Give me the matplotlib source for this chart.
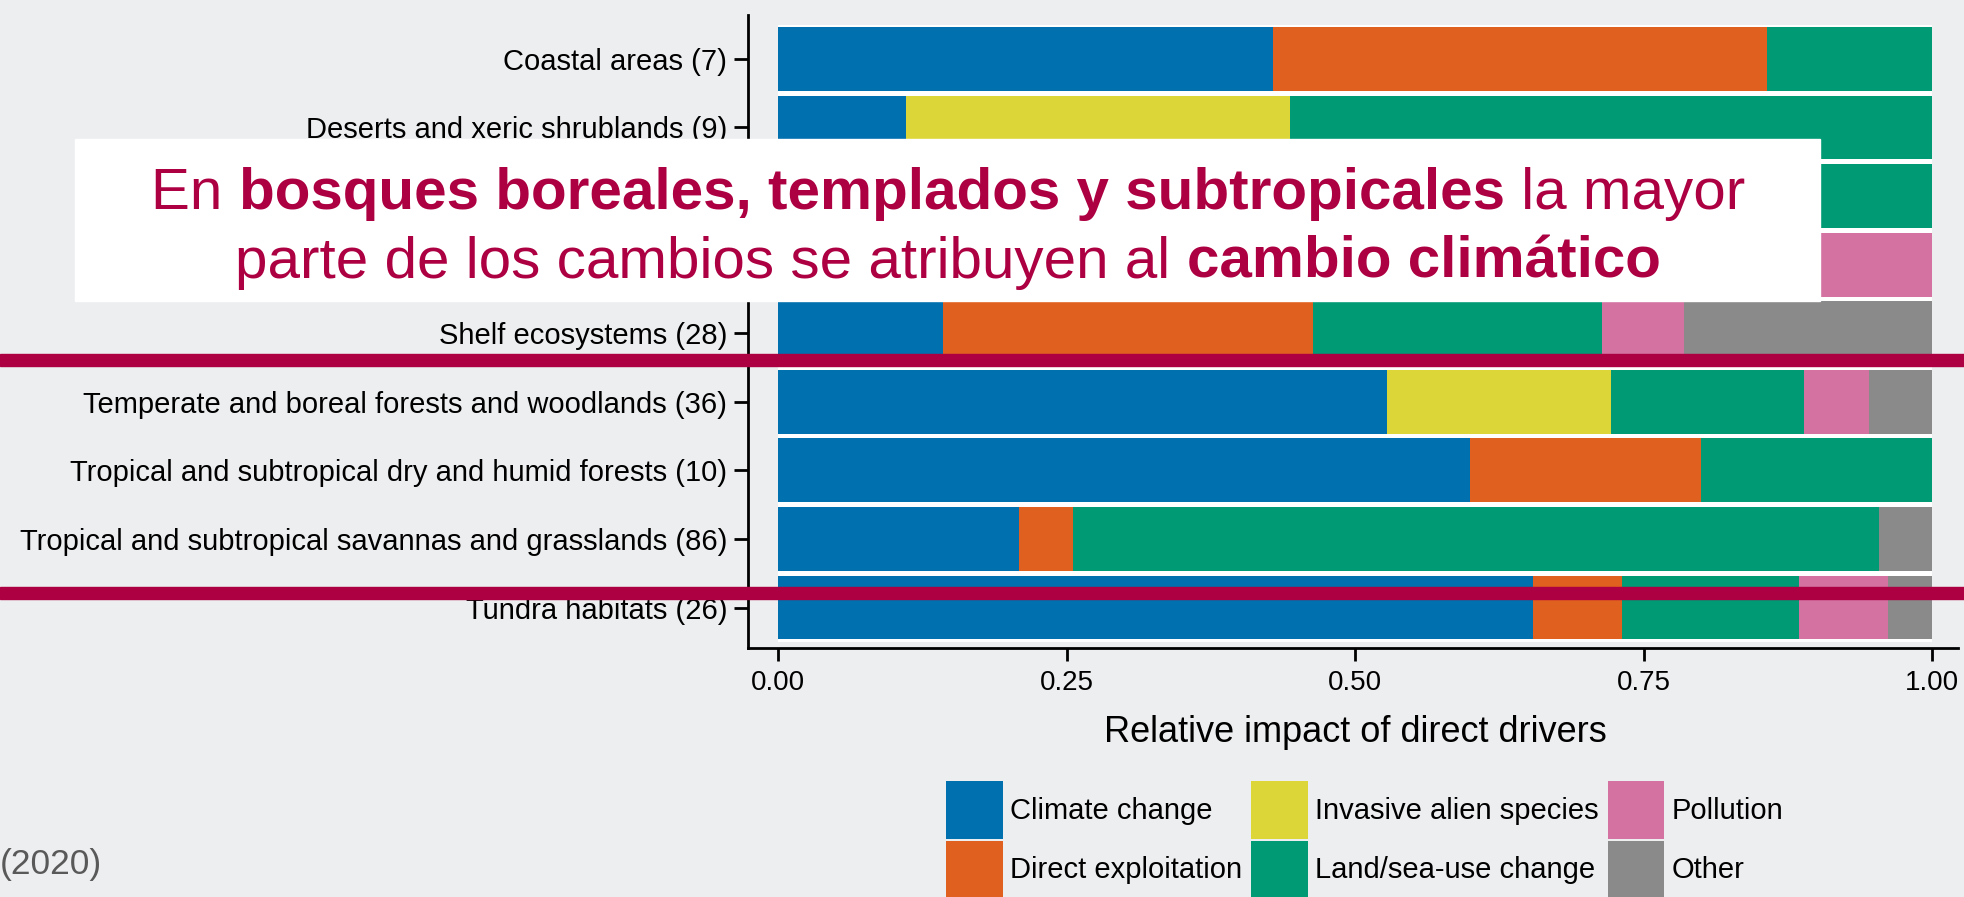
import matplotlib
matplotlib.use("Agg")
import matplotlib.pyplot as plt
from matplotlib.patches import Rectangle
import numpy as np

plt.rcParams['font.family'] = ['Liberation Sans', 'DejaVu Sans']

# Data (row shares, rows 3-4 are hidden behind the banner)
categories = [
    "Coastal areas (7)",
    "Deserts and xeric shrublands (9)",
    "Inland surface waters (21)",
    "Open ocean pelagic systems (15)",
    "Shelf ecosystems (28)",
    "Temperate and boreal forests and woodlands (36)",
    "Tropical and subtropical dry and humid forests (10)",
    "Tropical and subtropical savannas and grasslands (86)",
    "Tundra habitats (26)",
]
drivers = ["Climate change", "Direct exploitation", "Invasive alien species",
           "Land/sea-use change", "Pollution", "Other"]
climate = [0.429, 0.111, 0.25, 0.30, 0.143, 0.528, 0.60, 0.209, 0.654]
exploitation = [0.428, 0.0, 0.35, 0.35, 0.321, 0.0, 0.20, 0.047, 0.077]
invasive = [0.0, 0.333, 0.10, 0.0, 0.0, 0.194, 0.0, 0.0, 0.0]
landuse = [0.143, 0.556, 0.30, 0.15, 0.250, 0.167, 0.20, 0.698, 0.154]
pollution = [0.0, 0.0, 0.0, 0.20, 0.071, 0.056, 0.0, 0.0, 0.077]
other = [0.0, 0.0, 0.0, 0.0, 0.215, 0.055, 0.0, 0.046, 0.038]
series = [climate, exploitation, invasive, landuse, pollution, other]
colors = ["#0070AE", "#E0611F", "#DDD638", "#009A74", "#D472A1", "#8A8A8A"]

BG = "#EDEEF0"
RED = "#AD0042"
W, H = 1964, 897

fig = plt.figure(figsize=(W / 100, H / 100), dpi=100, facecolor=BG)
ax = fig.add_axes([748 / W, 1 - 648 / H, 1210 / W, 633 / H], facecolor=BG)

y = np.arange(len(categories))
totals = np.sum(np.array(series), axis=0)
# white backing so the gaps between rows look light
ax.barh(y, totals, height=1.0, color="white", zorder=1)
left = np.zeros(len(categories))
for vals, col, name in zip(series, colors, drivers):
    ax.barh(y, vals, left=left, height=0.93, color=col, label=name, zorder=2)
    left += np.array(vals)

ax.set_xlim(-0.026, 1.0225)
ax.set_ylim(8.59, -0.64)
ax.set_yticks(y)
ax.set_yticklabels(categories)
ax.set_xticks([0, 0.25, 0.5, 0.75, 1.0])
ax.set_xticklabels(["0.00", "0.25", "0.50", "0.75", "1.00"])
ax.tick_params(axis="y", length=10, width=2, pad=5, labelsize=21, colors="black")
ax.tick_params(axis="x", length=9, width=2, pad=7, labelsize=20, colors="black")
for s in ["top", "right"]:
    ax.spines[s].set_visible(False)
for s in ["left", "bottom"]:
    ax.spines[s].set_linewidth(2)

ax.set_xlabel("Relative impact of direct drivers", fontsize=26)
ax.xaxis.set_label_coords((1355 - 748) / 1210, (648 - 733) / 633)
ax.xaxis.label.set_va("center")

leg = ax.legend(loc="upper left", bbox_to_anchor=(946 / W, 1 - 781 / H),
                bbox_transform=fig.transFigure, ncol=3, frameon=False,
                fontsize=21, handlelength=1.95, handleheight=2.7,
                handletextpad=0.25, columnspacing=0.3, labelspacing=0.04,
                borderpad=0, borderaxespad=0)

# red highlight lines across the whole figure
for yc in [360, 593]:
    fig.patches.append(Rectangle((0, 1 - (yc + 6) / H), 1, 12 / H,
                                 transform=fig.transFigure, color=RED,
                                 zorder=20, figure=fig))

# white banner with mixed bold text
fig.patches.append(Rectangle((75 / W, 1 - 301 / H), (1820 - 75) / W, (301 - 139) / H,
                             transform=fig.transFigure, color="white",
                             zorder=30, figure=fig))

renderer = fig.canvas.get_renderer()


def rich_line(parts, cx, cy, size):
    texts, widths = [], []
    for s, bold in parts:
        t = fig.text(0, 1 - cy / H, s, fontsize=size, color=RED,
                     fontweight="bold" if bold else "normal",
                     ha="left", va="center", zorder=31)
        widths.append(t.get_window_extent(renderer).width)
        texts.append(t)
    x = cx - sum(widths) / 2
    for t, w in zip(texts, widths):
        t.set_x(x / W)
        x += w


rich_line([("En ", False), ("bosques boreales, templados y subtropicales", True),
           (" la mayor", False)], 948, 194, 42)
rich_line([("parte de los cambios se atribuyen al ", False),
           ("cambio climático", True)], 948, 263, 42)

fig.text(0, 1 - 864 / H, "(2020)", fontsize=25.5, color="#595959",
         ha="left", va="center")

fig.savefig("out.png", dpi=100, facecolor=BG)
